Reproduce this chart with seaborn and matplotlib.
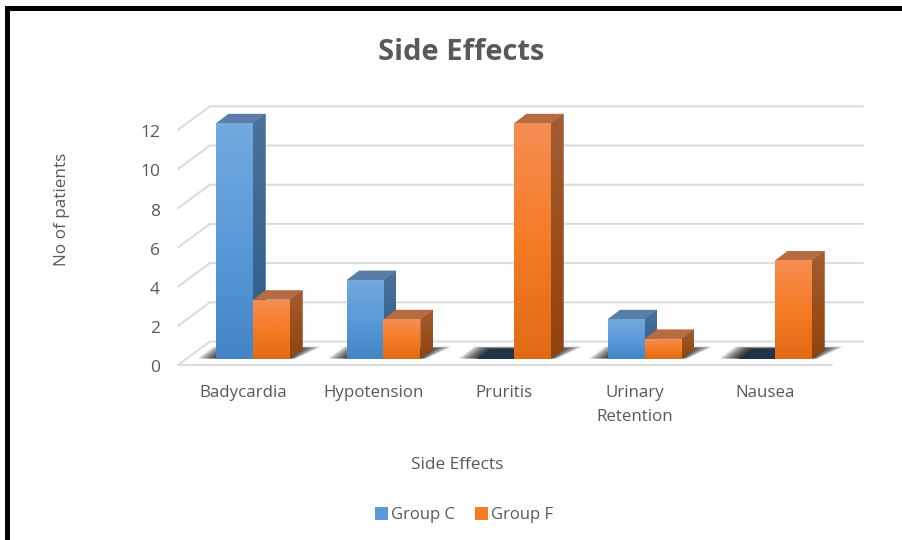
import matplotlib
matplotlib.use("Agg")
import matplotlib.pyplot as plt
import matplotlib.transforms as mtrans
import numpy as np
import pandas as pd
import seaborn as sns
from matplotlib.colors import LinearSegmentedColormap
from matplotlib.patches import Polygon, Rectangle

categories = ["Badycardia", "Hypotension", "Pruritis", "Urinary\nRetention", "Nausea"]
group_c = [12, 4, 0, 2, 0]
group_f = [3, 2, 12, 1, 5]
y_ticks = [0, 2, 4, 6, 8, 10, 12]

TEXT = "#595959"
GRID = "#dcdcdc"

# pixel layout of the picture
CAT0_PX, CAT_PX = 253.0, 130.5
BASE_PX, UNIT_PX = 358.5, 19.6
BOX = (178, 863, 95, 370)
DX, DY = 12.5 / CAT_PX, 9.5 / UNIT_PX

FRONT = {
    "Group C": ["#72a9de", "#5a9ad8", "#4485c6"],
    "Group F": ["#f58d52", "#f57b25", "#e26a16"],
}
SIDE = {
    "Group C": ["#4b7199", "#3b6792", "#2b5a89"],
    "Group F": ["#a35d33", "#9a4f1c", "#8e4310"],
}
TOP = {"Group C": "#597ea8", "Group F": "#b76b40"}
ZERO_TOP = "#1f3448"


def px_x(px):
    return (px - CAT0_PX) / CAT_PX


def px_y(py):
    return (BASE_PX - py) / UNIT_PX


def gradient_fill(ax, colors, x0, x1, y0, y1, zorder, clip=None):
    cmap = LinearSegmentedColormap.from_list("g", colors)
    im = ax.imshow(np.linspace(0, 1, 64)[:, None], cmap=cmap, extent=(x0, x1, y0, y1),
                   aspect="auto", interpolation="bilinear", zorder=zorder)
    if clip is not None:
        im.set_clip_path(clip)
    return im


sns.set_theme(style="white")
plt.rcParams["font.family"] = ["Open Sans", "DejaVu Sans"]

df = pd.DataFrame({"category": categories, "Group C": group_c, "Group F": group_f})
long_df = df.melt(id_vars="category", var_name="group", value_name="patients")

fig = plt.figure(figsize=(9.03, 5.4), dpi=100, facecolor="white")
ax = fig.add_axes([BOX[0] / 903, 1 - BOX[3] / 540, (BOX[1] - BOX[0]) / 903, (BOX[3] - BOX[2]) / 540])
sns.barplot(data=long_df, x="category", y="patients", hue="group", order=categories,
            palette={k: v[1] for k, v in FRONT.items()}, width=0.567, gap=0, saturation=1,
            linewidth=0, legend=True, ax=ax)

# wall and floor lines
for v in y_ticks:
    ax.plot([px_x(178), px_x(210), px_x(863)],
            [v + px_y(365), v + px_y(341.5), v + px_y(341.5)],
            color=GRID, lw=1.5, zorder=0.5, clip_on=False, solid_joinstyle="miter")
ax.plot([px_x(178), px_x(832)], [px_y(365), px_y(365)], color=GRID, lw=1.5, zorder=0.5, clip_on=False)

# soft floor shadow behind each pair of bars, darkest next to the bars
for i in range(len(categories)):
    x0, x1 = i - 0.2835, i + 0.2835
    for t in np.linspace(0, 1, 24):
        poly = [(x0 + (-19 + t * 19) / CAT_PX, 0), (x1 + (6 - t * 6) / CAT_PX, 0),
                (x1 + (32 - t * 22) / CAT_PX, DY * (1.25 - t * 0.2)), (x0 + (-3 + t * 15) / CAT_PX, DY * (1.25 - t * 0.2))]
        ax.add_patch(Polygon(poly, closed=True, facecolor="black", edgecolor="none",
                             alpha=0.05, zorder=1, clip_on=False))

# 3D faces built from the bars seaborn placed
for rank, (container, name) in enumerate(zip(ax.containers, ["Group C", "Group F"])):
    for bar in container:
        x0, w, h = bar.get_x(), bar.get_width(), bar.get_height()
        x1 = x0 + w
        if h == 0:
            ax.add_patch(Polygon([(x0, 0), (x1, 0), (x1, DY), (x0 + DX, DY)],
                                 closed=True, facecolor=ZERO_TOP, edgecolor="none", zorder=1.5))
            bar.set_visible(False)
            continue
        top = Polygon([(x0, h), (x1, h), (x1 + DX, h + DY), (x0 + DX, h + DY)], closed=True,
                      facecolor=TOP[name], edgecolor="none", zorder=2 + rank)
        ax.add_patch(top)
        side = Polygon([(x1, 0), (x1 + DX, DY), (x1 + DX, h + DY), (x1, h)], closed=True,
                       facecolor=SIDE[name][1], edgecolor="none", zorder=2 + rank)
        ax.add_patch(side)
        gradient_fill(ax, SIDE[name], x1, x1 + DX, 0, h + DY, 2 + rank + 0.1, clip=side)
        bar.set_zorder(4)
        gradient_fill(ax, FRONT[name], x0, x1, 0, h, 4.1)

ax.set_xlim(px_x(BOX[0]), px_x(BOX[1]))
ax.set_ylim(px_y(BOX[3]), px_y(BOX[2]))
sns.despine(ax=ax, left=True, bottom=True)
ax.patch.set_alpha(0)

ax.set_yticks(y_ticks)
ax.set_xticks(range(len(categories)))
ax.set_xticklabels(categories, linespacing=1.65)
ax.tick_params(axis="y", length=0, pad=13, labelsize=12.5, labelcolor=TEXT)
ax.tick_params(axis="x", length=0, pad=11, labelsize=12.2, labelcolor=TEXT)
y_shift = mtrans.ScaledTranslation(0, -0.08, fig.dpi_scale_trans)
for label in ax.get_yticklabels():
    label.set_transform(label.get_transform() + y_shift)
x_shift = mtrans.ScaledTranslation(-0.10, 0, fig.dpi_scale_trans)
for label in ax.get_xticklabels():
    label.set_transform(label.get_transform() + x_shift)

ax.set_xlabel("Side Effects", color=TEXT, fontsize=12.4)
ax.xaxis.set_label_coords((457 - BOX[0]) / (BOX[1] - BOX[0]), (BOX[3] - 457) / (BOX[3] - BOX[2]))
ax.set_ylabel("No of patients", color=TEXT, fontsize=12.3)
ax.yaxis.set_label_coords((70 - BOX[0]) / (BOX[1] - BOX[0]), (BOX[3] - 209) / (BOX[3] - BOX[2]))
fig.text(461 / 903, 1 - 52 / 540, "Side Effects", color=TEXT, fontsize=21, fontweight="bold",
         ha="center", va="center")

handles, labels = ax.get_legend_handles_labels()
ax.legend(handles, labels, loc="center", bbox_to_anchor=(464 / 903, 1 - 515 / 540),
          bbox_transform=fig.transFigure, ncol=2, frameon=False, fontsize=12, labelcolor=TEXT,
          handlelength=0.8, handleheight=0.8, handletextpad=0.2, columnspacing=1.15)

# picture frame: only top and left edges are in the crop
fig.add_artist(Rectangle((5 / 903, 0), 4.5 / 903, 1 - 6 / 540, transform=fig.transFigure,
                         facecolor="black", edgecolor="none"))
fig.add_artist(Rectangle((5 / 903, 1 - 11 / 540), 898 / 903, 5 / 540, transform=fig.transFigure,
                         facecolor="black", edgecolor="none"))

fig.savefig("out.png", dpi=100)
